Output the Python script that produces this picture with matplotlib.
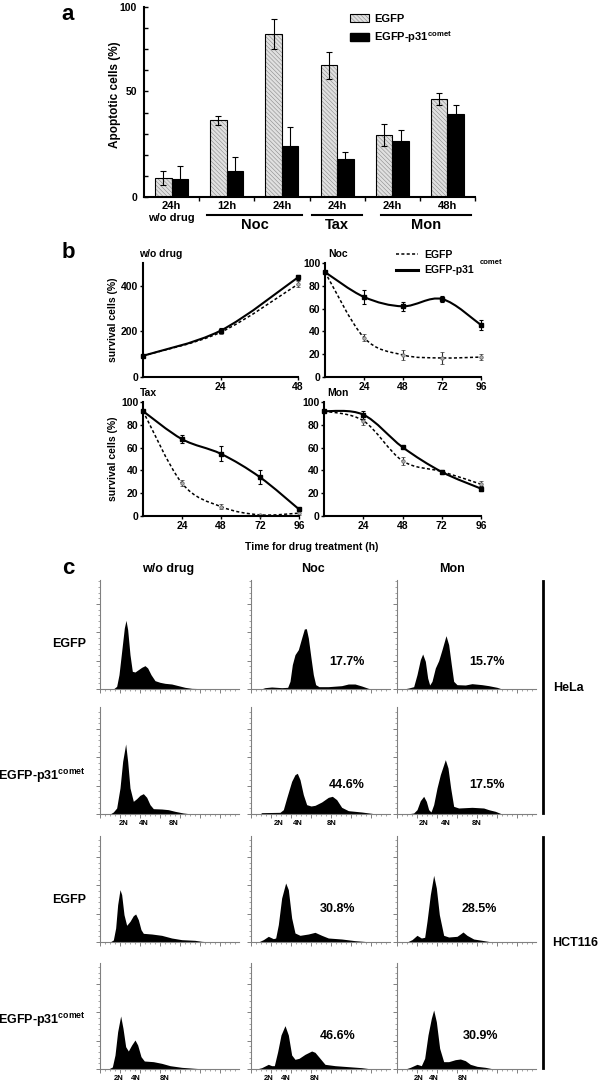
import numpy as np
import matplotlib
matplotlib.use('Agg')
import matplotlib.pyplot as plt
from matplotlib.path import Path
from matplotlib.patches import PathPatch, Patch
from matplotlib.lines import Line2D
from matplotlib.ticker import MultipleLocator

plt.rcParams['font.family'] = ['Liberation Sans', 'DejaVu Sans']
plt.rcParams['font.weight'] = 'bold'
plt.rcParams['mathtext.fontset'] = 'custom'
plt.rcParams['mathtext.rm'] = 'Liberation Sans:bold'
plt.rcParams['mathtext.bf'] = 'Liberation Sans:bold'
plt.rcParams['hatch.linewidth'] = 0.4

# ---- panel a: apoptotic cells (%) ----
apop_groups = ['24h\nw/o drug', '12h', '24h', '24h', '24h', '48h']
egfp_apop = [9.0, 36.4, 77.2, 62.3, 29.3, 46.5]
egfp_apop_err = [3.2, 2.2, 7.1, 6.3, 5.1, 3.0]
comet_apop = [8.7, 12.2, 24.2, 18.0, 26.4, 39.4]
comet_apop_err = [5.9, 6.6, 8.9, 3.5, 5.2, 4.1]
drug_names = ['Noc', 'Tax', 'Mon']
drug_spans = [(0.64, 2.37), (2.55, 3.46), (3.79, 5.42)]

# ---- panel b: survival cells (%) ----
hours = [0, 24, 48, 72, 96]
hours_nodrug = [0, 24, 48]
nodrug_egfp = [93, 196, 407]
nodrug_egfp_err = [3, 8, 12]
nodrug_comet = [93, 203, 437]
nodrug_comet_err = [3, 10, 10]
noc_egfp = [92, 34.5, 19.3, 16.7, 17.5]
noc_egfp_err = [1, 3, 4, 5, 3]
noc_comet = [92, 70.2, 62.0, 68.4, 45.6]
noc_comet_err = [1, 6, 4, 3, 4]
tax_egfp = [92, 28.7, 8.2, 1.0, 2.5]
tax_egfp_err = [1, 2.5, 2, 1, 1.5]
tax_comet = [92, 67.4, 54.5, 34.0, 5.9]
tax_comet_err = [1, 3.5, 6.5, 6, 1]
mon_egfp = [92, 83.6, 48.4, 39.0, 27.9]
mon_egfp_err = [1, 3.5, 3.5, 1.5, 3]
mon_comet = [92, 88.9, 60.4, 38.7, 24.0]
mon_comet_err = [1, 3.5, 1, 2, 2]

# ---- panel c: DNA content histograms (channel, count) ----
hela_egfp_wo_x = [40, 50, 57, 65, 73, 78, 83, 90, 97, 105, 115, 125, 135, 143, 153, 165, 180, 195, 215, 235, 255, 275, 305, 315]
hela_egfp_wo_y = [0, 8, 43, 113, 183, 206, 178, 103, 53, 51, 58, 65, 70, 63, 43, 25, 20, 17, 15, 10, 5, 2, 1, 0]
hela_egfp_noc_x = [30, 42, 62, 92, 110, 117, 124, 132, 142, 152, 160, 166, 172, 180, 187, 194, 204, 232, 272, 292, 312, 332, 352, 362]
hela_egfp_noc_y = [0, 4, 6, 4, 5, 23, 73, 103, 118, 153, 180, 181, 153, 93, 43, 13, 7, 7, 10, 15, 15, 9, 2, 0]
hela_egfp_mon_x = [20, 35, 50, 60, 70, 77, 85, 92, 98, 105, 115, 125, 135, 147, 155, 163, 170, 180, 205, 225, 255, 275, 300, 315]
hela_egfp_mon_y = [0, 3, 7, 43, 88, 105, 83, 33, 12, 23, 63, 85, 118, 160, 133, 73, 23, 13, 12, 16, 13, 10, 5, 0]

hela_comet_wo_x = [30, 40, 50, 60, 68, 77, 83, 90, 100, 110, 120, 130, 140, 150, 160, 185, 205, 225, 250, 275]
hela_comet_wo_y = [0, 6, 18, 78, 158, 210, 158, 78, 38, 46, 56, 61, 50, 28, 16, 15, 13, 8, 3, 0]
hela_comet_noc_x = [27, 32, 87, 97, 107, 122, 132, 139, 147, 157, 167, 180, 192, 212, 232, 244, 257, 272, 292, 332, 362, 372]
hela_comet_noc_y = [0, 4, 5, 13, 48, 98, 118, 122, 103, 58, 28, 24, 26, 36, 50, 53, 43, 20, 10, 6, 2, 0]
hela_comet_mon_x = [30, 50, 60, 70, 80, 88, 95, 102, 110, 120, 130, 140, 145, 153, 161, 170, 185, 225, 260, 275, 295, 315]
hela_comet_mon_y = [0, 3, 13, 40, 53, 38, 13, 6, 28, 78, 118, 148, 163, 138, 78, 23, 18, 20, 18, 13, 8, 0]

hct_egfp_wo_x = [30, 40, 47, 53, 60, 65, 72, 80, 90, 100, 107, 115, 123, 130, 155, 185, 215, 245, 285, 305, 335]
hct_egfp_wo_y = [0, 6, 42, 112, 157, 142, 82, 50, 62, 79, 84, 67, 37, 26, 24, 20, 12, 7, 5, 2, 0]
hct_egfp_noc_x = [22, 37, 52, 67, 74, 82, 92, 104, 112, 122, 132, 147, 172, 192, 212, 232, 272, 312, 362]
hct_egfp_noc_y = [0, 7, 17, 10, 12, 52, 132, 177, 157, 72, 27, 20, 24, 29, 20, 12, 9, 4, 0]
hct_egfp_mon_x = [30, 45, 60, 73, 83, 90, 100, 110, 118, 127, 140, 155, 180, 190, 198, 210, 230, 255, 285]
hct_egfp_mon_y = [0, 7, 20, 12, 14, 62, 142, 200, 162, 82, 20, 15, 17, 24, 30, 20, 9, 5, 0]

hct_comet_wo_x = [25, 37, 45, 53, 62, 69, 77, 85, 95, 105, 113, 123, 133, 160, 185, 210, 245, 285, 315]
hct_comet_wo_y = [0, 6, 42, 112, 159, 122, 67, 54, 72, 87, 72, 37, 24, 22, 17, 10, 5, 2, 0]
hct_comet_noc_x = [17, 32, 44, 52, 62, 70, 80, 90, 102, 112, 122, 132, 144, 162, 182, 192, 207, 222, 252, 292, 332, 362]
hct_comet_noc_y = [0, 4, 10, 14, 10, 10, 52, 102, 130, 102, 42, 29, 32, 44, 54, 50, 32, 14, 10, 7, 4, 0]
hct_comet_mon_x = [25, 40, 60, 73, 83, 93, 103, 110, 118, 128, 140, 155, 175, 190, 205, 220, 240, 265, 290]
hct_comet_mon_y = [0, 5, 14, 10, 32, 102, 152, 177, 142, 62, 22, 22, 28, 30, 25, 14, 8, 5, 0]

hela_egfp_pct = [None, '17.7%', '15.7%']
hela_comet_pct = [None, '44.6%', '17.5%']
hct_egfp_pct = [None, '30.8%', '28.5%']
hct_comet_pct = [None, '46.6%', '30.9%']
ploidy_labels = ['2N', '4N', '8N']
hela_ploidy_pos = [[70, 130, 220], [82, 139, 242], [80, 145, 240]]
hct_ploidy_pos = [[57, 107, 193], [52, 104, 192], [65, 110, 198]]
col_titles = ['w/o drug', 'Noc', 'Mon']

W, H = 600, 1082
fig = plt.figure(figsize=(6, 10.82), dpi=100)


def fx(x):
    return x / W


def fy(y):
    return 1 - y / H


def box(l, t, r, b):
    return fig.add_axes([l / W, 1 - b / H, (r - l) / W, (b - t) / H])


def smooth_path(xs, ys):
    # excel-style smoothed line through the points
    pts = np.column_stack([xs, ys]).astype(float)
    verts = [pts[0]]
    codes = [Path.MOVETO]
    n = len(pts)
    for i in range(n - 1):
        p0 = pts[max(i - 1, 0)]
        p1 = pts[i]
        p2 = pts[i + 1]
        p3 = pts[min(i + 2, n - 1)]
        verts += [p1 + (p2 - p0) / 6, p2 - (p3 - p1) / 6, p2]
        codes += [Path.CURVE4] * 3
    return Path(verts, codes)


# ================= panel a =================
ax = box(144, 7, 475, 197)
x = np.arange(len(apop_groups))
bw = 0.3
hatch = '\\\\\\\\\\\\\\\\'
ax.bar(x - bw / 2, egfp_apop, bw, color='#e0e0e0', edgecolor='#8a8a8a', hatch=hatch, lw=0)
ax.bar(x - bw / 2, egfp_apop, bw, fill=False, edgecolor='black', lw=0.8)
ax.bar(x + bw / 2, comet_apop, bw, color='black', edgecolor='black', lw=0.8)
ax.errorbar(x - bw / 2, egfp_apop, yerr=egfp_apop_err, fmt='none', ecolor='black', elinewidth=0.8, capsize=2.5, capthick=0.8)
ax.errorbar(x + bw / 2, comet_apop, yerr=comet_apop_err, fmt='none', ecolor='black', elinewidth=0.8, capsize=2.5, capthick=0.8)
ax.set_xlim(-0.5, 5.5)
ax.set_ylim(0, 90)
ax.set_yticks(range(0, 91, 10))
ax.set_yticklabels(['0', '', '', '', '', '50', '', '', '', '100'], fontsize=7.5)
ax.tick_params(axis='y', direction='in', length=3, width=1, pad=5)
ax.set_xticks(x)
ax.set_xticklabels(apop_groups, fontsize=8, linespacing=1.25)
ax.set_xticks(np.arange(0.5, 5.6, 1), minor=True)
ax.tick_params(axis='x', which='major', length=0, pad=3)
ax.tick_params(axis='x', which='minor', direction='out', length=3, width=1)
for s in ['top', 'right']:
    ax.spines[s].set_visible(False)
for s in ['left', 'bottom']:
    ax.spines[s].set_linewidth(1.5)
tr = ax.get_xaxis_transform()
for name, (x0, x1) in zip(drug_names, drug_spans):
    ax.plot([x0, x1], [-0.095, -0.095], color='black', lw=1.5, transform=tr, clip_on=False)
    ax.text((x0 + x1) / 2, -0.145, name, transform=tr, ha='center', va='center', fontsize=10.5)
fig.text(fx(115), fy(95), 'Apoptotic cells (%)', rotation=90, ha='center', va='center', fontsize=8.5)
h_egfp = (Patch(facecolor='#e0e0e0', edgecolor='#8a8a8a', hatch=hatch, lw=0), Patch(fill=False, edgecolor='black', lw=0.8))
h_comet = Patch(facecolor='black', edgecolor='black')
fig.legend([h_egfp, h_comet], ['EGFP', r'EGFP-p31$^{\mathbf{comet}}$'], loc='upper left',
           bbox_to_anchor=(fx(350), fy(14)), frameon=False, fontsize=8, handlelength=1.7,
           handleheight=0.65, handletextpad=0.45, labelspacing=0.45, borderpad=0, borderaxespad=0)

# ================= panel b =================
b_boxes = [(143, 263, 298, 377), (325, 263, 481, 377), (143, 402, 299, 516), (324, 402, 481, 516)]
b_titles = ['w/o drug', 'Noc', 'Tax', 'Mon']
b_title_x = [139, 328, 140, 327]
b_hours = [hours_nodrug, hours, hours, hours]
b_egfp = [nodrug_egfp, noc_egfp, tax_egfp, mon_egfp]
b_egfp_err = [nodrug_egfp_err, noc_egfp_err, tax_egfp_err, mon_egfp_err]
b_comet = [nodrug_comet, noc_comet, tax_comet, mon_comet]
b_comet_err = [nodrug_comet_err, noc_comet_err, tax_comet_err, mon_comet_err]
dot_ls = (0, (2, 1.5))
for i, (l, t, r, b) in enumerate(b_boxes):
    ax = box(l, t, r, b)
    hx = b_hours[i]
    ax.add_patch(PathPatch(smooth_path(hx, b_egfp[i]), fill=False, lw=1.1, ls=dot_ls, edgecolor='black', clip_on=False))
    ax.add_patch(PathPatch(smooth_path(hx, b_comet[i]), fill=False, lw=1.5, edgecolor='black', clip_on=False))
    ax.errorbar(hx, b_egfp[i], yerr=b_egfp_err[i], fmt='o', ms=2.5, mfc='#b0b0b0', mec='#606060', mew=0.5,
                ecolor='#333333', elinewidth=0.8, capsize=1.5, capthick=0.8, clip_on=False)
    ax.errorbar(hx, b_comet[i], yerr=b_comet_err[i], fmt='s', ms=2.5, color='black',
                elinewidth=0.8, capsize=1.5, capthick=0.8, clip_on=False)
    if i == 0:
        ax.set_xlim(0, 48)
        ax.set_ylim(0, 500)
        ax.set_xticks([24, 48])
        ax.set_yticks([0, 200, 400])
    else:
        ax.set_xlim(0, 96)
        ax.set_ylim(0, 100)
        ax.set_xticks([24, 48, 72, 96])
        ax.set_yticks(range(0, 101, 20))
    ax.tick_params(labelsize=7.5, length=2, width=1, pad=1.5)
    for s in ['top', 'right']:
        ax.spines[s].set_visible(False)
    for s in ['left', 'bottom']:
        ax.spines[s].set_linewidth(1.5)
    fig.text(fx(b_title_x[i]), fy(t - 9), b_titles[i], ha='left', va='center', fontsize=7.5)
fig.text(fx(113), fy(320), 'survival cells (%)', rotation=90, ha='center', va='center', fontsize=7.5)
fig.text(fx(113), fy(459), 'survival cells (%)', rotation=90, ha='center', va='center', fontsize=7.5)
fig.text(fx(312), fy(547), 'Time for drug treatment (h)', ha='center', va='center', fontsize=7.5)
fig.legend([Line2D([], [], color='black', lw=1.1, ls=dot_ls), Line2D([], [], color='black', lw=2.2)],
           ['EGFP', 'EGFP-p31'], loc='upper left', bbox_to_anchor=(fx(396), fy(250)), frameon=False,
           fontsize=7.5, handlelength=2.1, handletextpad=0.6, labelspacing=0.5, borderpad=0, borderaxespad=0)
fig.text(fx(480), fy(263), 'comet', ha='left', va='center', fontsize=5.5)

# ================= panel c =================
col_left = [100, 251, 397]
col_w = 139
row_tb = [(580, 689), (707, 814), (836, 942), (963, 1069)]
row_hist = [
    [(hela_egfp_wo_x, hela_egfp_wo_y), (hela_egfp_noc_x, hela_egfp_noc_y), (hela_egfp_mon_x, hela_egfp_mon_y)],
    [(hela_comet_wo_x, hela_comet_wo_y), (hela_comet_noc_x, hela_comet_noc_y), (hela_comet_mon_x, hela_comet_mon_y)],
    [(hct_egfp_wo_x, hct_egfp_wo_y), (hct_egfp_noc_x, hct_egfp_noc_y), (hct_egfp_mon_x, hct_egfp_mon_y)],
    [(hct_comet_wo_x, hct_comet_wo_y), (hct_comet_noc_x, hct_comet_noc_y), (hct_comet_mon_x, hct_comet_mon_y)],
]
row_pct = [hela_egfp_pct, hela_comet_pct, hct_egfp_pct, hct_comet_pct]
row_ploidy = [None, hela_ploidy_pos, None, hct_ploidy_pos]
pct_xy = [[None, (347, 662), (487, 662)], [None, (347, 785), (487, 785)],
          [None, (338, 909), (479, 909)], [None, (338, 1036), (481, 1036)]]
row_names = ['EGFP', r'EGFP-p31$^{\mathbf{comet}}$', 'EGFP', r'EGFP-p31$^{\mathbf{comet}}$']
row_name_y = [644, 776, 900, 1020]
grey = '#808080'
for r, (t, b) in enumerate(row_tb):
    for c in range(3):
        l = col_left[c]
        ax = box(l, t, l + col_w, b)
        hx, hy = row_hist[r][c]
        ax.fill_between(hx, hy, color='black', lw=0)
        ax.set_xlim(0, col_w * 3)
        ax.set_ylim(0, (b - t) * 3)
        ax.xaxis.set_major_locator(MultipleLocator(60))
        ax.xaxis.set_minor_locator(MultipleLocator(15))
        ax.yaxis.set_major_locator(MultipleLocator(85))
        ax.yaxis.set_minor_locator(MultipleLocator(17))
        ax.tick_params(which='major', direction='out', length=3, width=0.7, color=grey,
                       labelbottom=False, labelleft=False)
        ax.tick_params(which='minor', direction='out', length=1.5, width=0.5, color=grey)
        for s in ['top', 'right']:
            ax.spines[s].set_visible(False)
        for s in ['left', 'bottom']:
            ax.spines[s].set_color(grey)
            ax.spines[s].set_linewidth(0.8)
        if row_pct[r][c]:
            px, py = pct_xy[r][c]
            fig.text(fx(px), fy(py), row_pct[r][c], ha='center', va='center', fontsize=9)
        if row_ploidy[r] is not None:
            trc = ax.get_xaxis_transform()
            for lbl, pos in zip(ploidy_labels, row_ploidy[r][c]):
                ax.annotate(lbl, (pos, 0), xycoords=trc, xytext=(0, -6.5), textcoords='offset points',
                            ha='center', va='center', fontsize=5.5)
    fig.text(fx(86), fy(row_name_y[r]), row_names[r], ha='right', va='center', fontsize=9)

for name, px in zip(col_titles, [168, 313, 452]):
    fig.text(fx(px), fy(569), name, ha='center', va='center', fontsize=9)

fig.add_artist(Line2D([fx(543), fx(543)], [fy(581), fy(813)], color='black', lw=2))
fig.add_artist(Line2D([fx(543), fx(543)], [fy(837), fy(1068)], color='black', lw=2))
fig.text(fx(568), fy(688), 'HeLa', ha='center', va='center', fontsize=9)
fig.text(fx(575), fy(943), 'HCT116', ha='center', va='center', fontsize=9)

# panel letters
for lbl, py in zip(['a', 'b', 'c'], [15, 253, 569]):
    fig.text(fx(68), fy(py), lbl, ha='center', va='center', fontsize=16)

fig.savefig('out.png', dpi=100)
